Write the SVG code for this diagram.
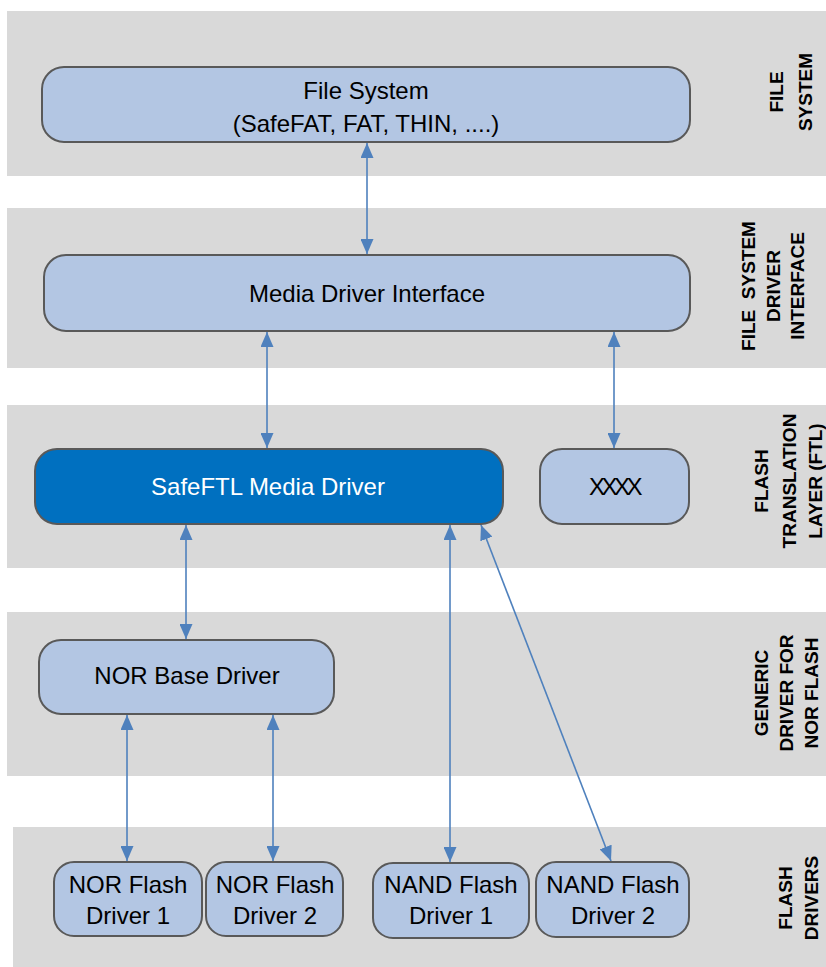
<svg xmlns="http://www.w3.org/2000/svg" width="826" height="967" viewBox="0 0 826 967">
<style>
.band{fill:#d9d9d9}
.node{fill:#b3c6e3;stroke:#595959;stroke-width:2}
.dark{fill:#0070c0;stroke:#595959;stroke-width:2}
.t{font-family:"Liberation Sans",Arial,sans-serif;font-size:24px;fill:#000;text-anchor:middle}
.w{fill:#fff}
.lab{font-family:"Liberation Sans",Arial,sans-serif;font-size:19px;font-weight:bold;fill:#000;text-anchor:middle}
.c{stroke:#4f81bd;stroke-width:1.6;fill:none;marker-start:url(#ah);marker-end:url(#ah)}
</style>
<defs>
<marker id="ah" markerUnits="userSpaceOnUse" markerWidth="15" markerHeight="13" viewBox="0 0 15 13" refX="15" refY="6.5" orient="auto-start-reverse">
<path d="M0,0 L15,6.5 L0,13 Z" fill="#4f81bd"/>
</marker>
</defs>
<rect width="826" height="967" fill="#fff"/>
<g id="bands">
<rect class="band" x="7" y="11" width="819" height="165"/>
<rect class="band" x="7" y="208" width="819" height="160"/>
<rect class="band" x="7" y="405" width="819" height="163"/>
<rect class="band" x="7" y="612" width="819" height="164"/>
<rect class="band" x="13" y="827" width="813" height="140"/>
</g>
<g id="band-labels">
<text class="lab" transform="translate(783,92) rotate(-90)"><tspan x="0" dy="0">FILE</tspan><tspan x="0" dy="29">SYSTEM</tspan></text>
<text class="lab" transform="translate(755,286) rotate(-90)" xml:space="preserve"><tspan x="0" dy="0">FILE  SYSTEM</tspan><tspan x="0" dy="25">DRIVER</tspan><tspan x="0" dy="24">INTERFACE</tspan></text>
<text class="lab" transform="translate(768,481) rotate(-90)"><tspan x="0" dy="0">FLASH</tspan><tspan x="0" dy="28">TRANSLATION</tspan><tspan x="0" dy="26">LAYER (FTL)</tspan></text>
<text class="lab" transform="translate(768,693) rotate(-90)"><tspan x="0" dy="0">GENERIC</tspan><tspan x="0" dy="25">DRIVER FOR</tspan><tspan x="0" dy="25">NOR FLASH</tspan></text>
<text class="lab" transform="translate(792,898) rotate(-90)"><tspan x="0" dy="0">FLASH</tspan><tspan x="0" dy="26">DRIVERS</tspan></text>
</g>
<g id="connectors">
<line class="c" x1="367" y1="143" x2="367" y2="254"/>
<line class="c" x1="267" y1="332" x2="267" y2="448"/>
<line class="c" x1="614" y1="332" x2="614" y2="448"/>
<line class="c" x1="186" y1="525" x2="186" y2="639"/>
<line class="c" x1="127" y1="715" x2="127" y2="861"/>
<line class="c" x1="273" y1="715" x2="273" y2="861"/>
<line class="c" x1="450" y1="525" x2="450" y2="862"/>
<line class="c" x1="481" y1="525" x2="611" y2="861"/>
</g>
<g id="file-system">
<rect class="node" x="42" y="67" width="648" height="75" rx="22"/>
<text class="t" x="366" y="99">File System</text>
<text class="t" x="366" y="132">(SafeFAT, FAT, THIN, ....)</text>
</g>
<g id="media-driver-interface">
<rect class="node" x="44" y="255" width="646" height="76" rx="22"/>
<text class="t" x="367" y="302">Media Driver Interface</text>
</g>
<g id="safeftl">
<rect class="dark" x="35" y="449" width="468" height="75" rx="22"/>
<text class="t w" x="268" y="495">SafeFTL Media Driver</text>
</g>
<g id="xxxx">
<rect class="node" x="540" y="449" width="149" height="75" rx="22"/>
<text class="t" x="614" y="495" letter-spacing="-3.5">XXXX</text>
</g>
<g id="nor-base-driver">
<rect class="node" x="39" y="640" width="295" height="74" rx="22"/>
<text class="t" x="187" y="684">NOR Base Driver</text>
</g>
<g id="nor-flash-1">
<rect class="node" x="54" y="862" width="148" height="74" rx="20"/>
<text class="t" x="128" y="893">NOR Flash</text>
<text class="t" x="128" y="924">Driver 1</text>
</g>
<g id="nor-flash-2">
<rect class="node" x="206" y="862" width="137" height="74" rx="20"/>
<text class="t" x="275" y="893">NOR Flash</text>
<text class="t" x="275" y="924">Driver 2</text>
</g>
<g id="nand-flash-1">
<rect class="node" x="373" y="863" width="156" height="75" rx="20"/>
<text class="t" x="451" y="893">NAND Flash</text>
<text class="t" x="451" y="924">Driver 1</text>
</g>
<g id="nand-flash-2">
<rect class="node" x="536" y="862" width="153" height="75" rx="20"/>
<text class="t" x="613" y="893">NAND Flash</text>
<text class="t" x="613" y="924">Driver 2</text>
</g>
</svg>
